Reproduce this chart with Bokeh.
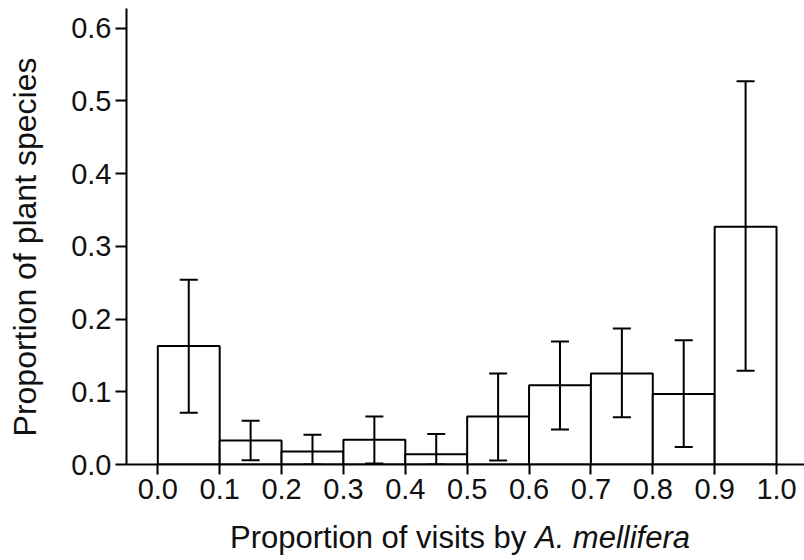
from bokeh.plotting import figure
from bokeh.layouts import column, row
from bokeh.models import (ColumnDataSource, Whisker, TeeHead, FixedTicker,
                          PrintfTickFormatter, Range1d, Div)
from bokeh.embed import file_html
from bokeh.resources import INLINE

# ---- data ----
bin_edges = [0.0, 0.1, 0.2, 0.3, 0.4, 0.5, 0.6, 0.7, 0.8, 0.9, 1.0]
proportion = [0.163, 0.033, 0.018, 0.034, 0.014, 0.066, 0.109, 0.125, 0.097, 0.327]
err_upper = [0.254, 0.060, 0.041, 0.066, 0.042, 0.125, 0.169, 0.187, 0.171, 0.527]
err_lower = [0.071, 0.006, 0.000, 0.0015, 0.000, 0.0055, 0.048, 0.065, 0.024, 0.129]
x_ticks = [0.0, 0.1, 0.2, 0.3, 0.4, 0.5, 0.6, 0.7, 0.8, 0.9, 1.0]
y_ticks = [0.0, 0.1, 0.2, 0.3, 0.4, 0.5, 0.6]
x_label_plain = "Proportion of visits by"
x_label_italic = "A. mellifera"
y_label = "Proportion of plant species"

left = bin_edges[:-1]
right = bin_edges[1:]
mid = [(a + b) / 2 for a, b in zip(left, right)]

src = ColumnDataSource(dict(left=left, right=right, top=proportion, mid=mid,
                            upper=err_upper, lower=err_lower))

FONT = "Liberation Sans"
YDIV_W = 50

p = figure(width=804 - YDIV_W, height=516, output_backend="svg",
           toolbar_location=None,
           x_range=Range1d(-0.0506, 1.0452), y_range=Range1d(0, 0.627),
           min_border_left=126 - YDIV_W, min_border_right=0, min_border_top=8,
           min_border_bottom=52)
p.outline_line_color = None
p.xgrid.visible = False
p.ygrid.visible = False
p.background_fill_color = "white"
p.border_fill_color = "white"

p.quad(left="left", right="right", top="top", bottom=0, source=src,
       fill_color="white", line_color="black", line_width=2)

w = Whisker(source=src, base="mid", upper="upper", lower="lower",
            dimension="height", line_color="black", line_width=2,
            level="annotation",
            upper_head=TeeHead(size=18, line_color="black", line_width=2),
            lower_head=TeeHead(size=18, line_color="black", line_width=2))
p.add_layout(w)

for ax in (p.xaxis[0], p.yaxis[0]):
    ax.axis_line_color = "black"
    ax.axis_line_width = 2
    ax.major_tick_line_color = "black"
    ax.major_tick_line_width = 2
    ax.major_tick_in = 0
    ax.minor_tick_line_color = None
    ax.major_label_text_font = FONT
    ax.major_label_text_font_size = "29px"
    ax.major_label_text_color = "#111111"
    ax.major_label_standoff = 4
    ax.formatter = PrintfTickFormatter(format="%.1f")

p.xaxis[0].ticker = FixedTicker(ticks=x_ticks)
p.yaxis[0].ticker = FixedTicker(ticks=y_ticks)
p.xaxis[0].major_tick_out = 10
p.yaxis[0].major_tick_out = 11

# y title (rotated, bottom-to-top)
ylabel = Div(
    text=(f'<div style="position:relative; width:{YDIV_W}px; height:560px;">'
          f'<div style="position:absolute; left:-175px; top:231px; width:400px; '
          f'height:32px; text-align:center; font-family:\'{FONT}\'; '
          f'font-size:32px; line-height:32px; color:#111111; white-space:nowrap; '
          f'transform:rotate(-90deg); transform-origin:center center;">'
          f'{y_label}</div></div>'),
    width=YDIV_W, height=560, margin=(0, 0, 0, 0))

# x title mixes upright and italic text
xlabel = Div(
    text=(f'<div style="position:relative; left:{116 - YDIV_W}px; width:688px; '
          f'text-align:center; font-family:\'{FONT}\'; font-size:31px; '
          f'line-height:31px; padding-top:6px; color:#111111; white-space:nowrap;">'
          f'{x_label_plain} <i>{x_label_italic}</i></div>'),
    width=804 - YDIV_W, height=44, margin=(0, 0, 0, 0))

layout = row(ylabel, column(p, xlabel, spacing=0), spacing=0)

open("out.html", "w").write(file_html(layout, INLINE))
